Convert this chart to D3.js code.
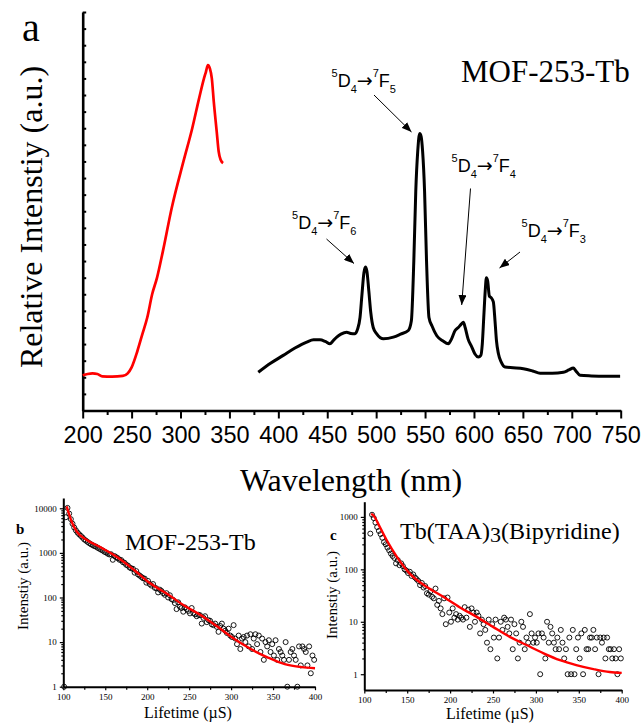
<!DOCTYPE html>
<html>
<head>
<meta charset="utf-8">
<script src="https://cdn.jsdelivr.net/npm/d3@7"></script>
<style>
body { margin: 0; background: #fff; }
svg { display: block; }
</style>
</head>
<body>
<div id="chart"></div>
<script>
// ---- panel a : excitation (red) and emission (black) spectra ----
var exWave = [200, 205, 210, 215, 220, 230, 241, 246, 250, 256, 261, 266, 271, 276, 282, 291, 303, 312, 319, 324, 326, 328, 330, 332, 334, 337, 339, 341, 343.5];
var exInt  = [10.6, 11.0, 11.2, 11.0, 10.3, 10.2, 10.4, 11.2, 13, 18, 23, 28, 35, 40, 48, 61, 75, 85, 94, 100, 102, 104, 103, 100, 93, 84, 78, 75.5, 74.5];

var emWave = [379.5, 392, 405, 417, 429, 436, 442.6, 448, 452.8, 456, 459.7, 464, 469.9, 474, 478.4, 481, 483.5, 485.5, 487.5, 489, 490.5, 492.5, 494.5, 497, 500.6,
  507.4, 517.6, 525, 532.9, 536, 538.5, 540.5, 542.5, 544.5, 546, 547.5, 549.5, 551.5, 554, 557, 562, 568, 573.8, 577, 580.7, 584, 587, 589.2, 591, 594, 597.8,
  601, 604.5, 607, 608.5, 610, 611.5, 612.7, 614, 615.7, 617.5, 619.8, 621.5, 623, 625, 628, 631.8, 640, 650.5, 660, 667.6, 680, 691.4, 697, 701.6, 704, 708.5,
  720, 735, 749.4];
var emInt  = [11.5, 14.2, 16.6, 18.8, 20.6, 21.3, 21.3, 20.8, 20.1, 21.0, 22.1, 23.0, 23.6, 23.2, 23.1, 24.5, 28, 35, 41.5, 43.2, 42, 36, 29.5, 25, 23.1,
  21.6, 22.1, 23, 24.1, 27, 45, 66, 78, 83.4, 82.5, 78, 66, 45, 28, 25.5, 22.5, 21, 20.1, 21.5, 24.1, 25, 26, 26.6, 25, 21.5, 19.1,
  17, 16.1, 16.6, 20, 28, 36, 40, 39, 34.5, 34, 32.7, 27, 21, 17.1, 14.5, 13.1, 12.9, 12.6, 11.9, 11.2, 11.2, 11.5, 12.2, 12.8, 12, 10.6,
  10.4, 10.3, 10.3];

var wavelengthTicks = [200, 250, 300, 350, 400, 450, 500, 550, 600, 650, 700, 750];
var transitionJ = ["6", "5", "4", "3"];

// ---- panel b : MOF-253-Tb decay ----
var bTime = [101, 103, 105, 107, 109, 111, 113, 115, 117, 119, 121, 123, 125, 127, 129, 131, 133, 135, 137, 139, 141, 143, 145, 147, 149,
  151, 153, 155, 157, 159, 161, 163, 165, 167, 169, 171, 173, 175, 177, 179, 181, 183, 185, 187, 189, 191, 193, 195, 197, 199,
  201, 203, 205, 207, 209, 211, 213, 215, 217, 219, 221, 223, 225, 227, 229, 231, 233, 235, 237, 239, 241, 243, 245, 247, 249,
  251, 253, 255, 257, 259, 261, 263, 265, 267, 269, 271, 273, 275, 277, 279, 281, 283, 285, 287, 289, 291, 293, 295, 297, 299,
  301, 303, 305, 307, 309, 311, 313, 315, 317, 319, 321, 323, 325, 327, 329, 331, 333, 335, 337, 339, 341, 343, 345, 347, 349,
  351, 353, 355, 357, 359, 361, 363, 365, 367, 369, 371, 373, 375, 377, 379, 381, 383, 385, 387, 389, 391, 393, 395, 397, 399];
var bCount = [1, 6300, 10200, 7600, 5700, 4500, 3700, 3200, 2850, 2600, 2400, 2200, 2000, 1880, 1760, 1650, 1560, 1490, 1420, 1380, 1300, 1240, 1180, 1130, 1060,
  1020, 960, 920, 930, 700, 850, 800, 760, 700, 690, 620, 600, 540, 520, 470, 450, 440, 360, 390, 330, 310, 290, 270, 265, 215,
  235, 200, 185, 200, 165, 160, 130, 150, 140, 125, 115, 125, 100, 112, 92, 88, 75, 55, 78, 62, 58, 48, 60, 55, 50,
  44, 58, 45, 42, 38, 41, 40, 26, 35, 38, 28, 31, 30, 25, 24, 26, 22, 17, 23, 26, 20, 18, 16, 20, 14,
  13, 24, 12, 9, 14, 7, 12, 13, 10, 14, 8, 15, 7, 12, 15, 9, 14, 6, 12, 4, 10, 8, 11, 6, 9,
  5, 11, 4, 7, 6, 5, 4, 10, 1, 4, 6, 7, 5, 4, 1, 8, 3, 8, 7, 6, 3, 8, 2, 5, 4];
var bFitTime = [104, 110, 116, 128, 144, 164, 184, 204, 224, 244, 264, 284, 304, 324, 344, 364, 384, 400];
var bFit     = [11000, 5000, 3000, 1950, 1350, 810, 420, 205, 120, 66, 40, 22, 11.7, 6.9, 4.5, 3.2, 2.75, 2.6];

// ---- panel c : Tb(TAA)3(Bipyridine) decay ----
var cTime = [107, 109, 111, 113, 115, 117, 119, 121, 123, 125, 127, 129, 131, 133, 135, 137, 139, 141, 143, 145, 147, 149,
  151, 153, 155, 157, 159, 161, 163, 165, 167, 169, 171, 173, 175, 177, 179, 181, 183, 185, 187, 189, 191, 193, 195, 197, 199,
  201, 203, 205, 207, 209, 211, 213, 215, 217, 219, 221, 223, 225, 227, 229, 231, 233, 235, 237, 239, 241, 243, 245, 247, 249,
  251, 253, 255, 257, 259, 261, 263, 265, 267, 269, 271, 273, 275, 277, 279, 281, 283, 285, 287, 289, 291, 293, 295, 297, 299,
  301, 303, 305, 307, 309, 311, 313, 315, 317, 319, 321, 323, 325, 327, 329, 331, 333, 335, 337, 339, 341, 343, 345, 347, 349,
  351, 353, 355, 357, 359, 361, 363, 365, 367, 369, 371, 373, 375, 377, 379, 381, 383, 385, 387, 389, 391, 393, 395, 397, 399];
var cCount = [480, 1100, 950, 780, 640, 540, 470, 400, 330, 300, 260, 230, 200, 180, 165, 130, 150, 120, 130, 115, 100, 95,
  85, 90, 75, 80, 70, 65, 60, 50, 55, 45, 48, 35, 33, 38, 30, 28, 43, 21, 25, 18, 14, 28, 9, 29, 15,
  10, 18, 12, 14, 11, 13, 12, 11, 19, 12, 17, 8, 18, 15, 10, 15, 13, 6, 11, 9, 7, 4, 11, 3, 9,
  5, 11, 2, 5, 10, 7, 12, 11, 8, 6, 11, 3, 9, 6, 2, 4, 10, 8, 3, 5, 4, 14, 6, 4, 5,
  4, 6, 1, 6, 5, 2, 10, 4, 8, 6, 4, 3, 5, 3, 7, 4, 2, 3, 1, 5, 1, 7, 1, 3, 5,
  2, 6, 1, 7, 3, 3, 5, 5, 7, 3, 5, 1, 5, 4, 5, 2, 5, 3, 3, 2, 3, 2, 1, 3, 2];
var cFitTime = [108, 110.5, 118, 126, 138, 153, 173, 192, 211, 231, 250, 270, 289, 309, 328, 347, 367, 386, 400];
var cFit     = [1150, 1075, 646, 363, 173, 83, 46, 30, 19, 12.4, 8, 5.1, 3.6, 2.5, 1.85, 1.49, 1.25, 1.1, 1.06];

var lifetimeTicks = [100, 150, 200, 250, 300, 350, 400];

var serif = "'Liberation Serif', 'Times New Roman', serif";
var sans = "'Liberation Sans', Arial, sans-serif";

var svg = d3.select("#chart").append("svg")
    .attr("width", 643)
    .attr("height", 723);

svg.append("defs").append("marker")
    .attr("id", "head")
    .attr("viewBox", "0 0 10 8")
    .attr("refX", 10).attr("refY", 4)
    .attr("markerWidth", 10).attr("markerHeight", 8)
    .attr("markerUnits", "userSpaceOnUse")
    .attr("orient", "auto")
  .append("path")
    .attr("d", "M0,0L10,4L0,8Z")
    .attr("fill", "black");

// ================= panel a =================
var xa = d3.scaleLinear().domain([200, 750]).range([82.7, 620.7]);
var ya = d3.scaleLinear().domain([0, 120]).range([410.5, 12]);

var ga = svg.append("g");

var xAxisA = ga.append("g")
    .attr("transform", "translate(0," + ya(0) + ")")
    .call(d3.axisBottom(xa).tickValues(wavelengthTicks).tickSize(8).tickSizeOuter(0).tickPadding(8));
xAxisA.selectAll("text").attr("font-family", sans).attr("font-size", 23.5).attr("fill", "black");
ga.append("g")
    .attr("transform", "translate(0," + ya(0) + ")")
    .call(d3.axisBottom(xa).tickValues(d3.range(225, 750, 50)).tickSize(4.5).tickFormat(""))
    .select(".domain").remove();

var yAxisA = ga.append("g")
    .attr("transform", "translate(" + xa(200) + ",0)")
    .call(d3.axisRight(ya).tickValues(d3.range(0, 121, 5)).tickSize(3.5).tickSizeOuter(0).tickFormat(""));

ga.selectAll(".domain").attr("stroke-width", 2.6).attr("stroke", "black");
ga.selectAll(".tick line").attr("stroke-width", 2).attr("stroke", "black");

var lineA = d3.line().curve(d3.curveMonotoneX);

ga.append("path")
    .attr("d", lineA(exWave.map(function(w, i){ return [xa(w), ya(exInt[i])]; })))
    .attr("fill", "none")
    .attr("stroke", "#ff0000")
    .attr("stroke-width", 2.7)
    .attr("stroke-linejoin", "round");

ga.append("path")
    .attr("d", lineA(emWave.map(function(w, i){ return [xa(w), ya(emInt[i])]; })))
    .attr("fill", "none")
    .attr("stroke", "black")
    .attr("stroke-width", 3)
    .attr("stroke-linejoin", "round");

// transition labels: text start, baseline, arrow from -> to
var labelLayout = [
    {x: 292, y: 228.5, a: [326.5, 239, 354, 263.5]},
    {x: 331.5, y: 86.5, a: [374, 95, 411.5, 132]},
    {x: 451.5, y: 171.5, a: [470.5, 188.5, 461.7, 305]},
    {x: 521.5, y: 236.5, a: [520, 252, 499.5, 268]}
];

transitionJ.forEach(function(j, i){
    var p = labelLayout[i];
    var t = ga.append("text")
        .attr("x", p.x).attr("y", p.y)
        .attr("font-family", sans).attr("font-size", 18);
    t.append("tspan").attr("font-size", 11).attr("dy", -10).text("5");
    t.append("tspan").attr("dy", 10).text("D");
    t.append("tspan").attr("font-size", 11).attr("dy", 6.5).text("4");
    t.append("tspan").attr("dy", -6.5).attr("font-family", "'DejaVu Sans'").attr("font-size", 19).text("\u2192");
    t.append("tspan").attr("font-size", 11).attr("dy", -10).text("7");
    t.append("tspan").attr("dy", 10).text("F");
    t.append("tspan").attr("font-size", 11).attr("dy", 6.5).text(j);
    ga.append("line")
        .attr("x1", p.a[0]).attr("y1", p.a[1])
        .attr("x2", p.a[2]).attr("y2", p.a[3])
        .attr("stroke", "black").attr("stroke-width", 1)
        .attr("marker-end", "url(#head)");
});

ga.append("text")
    .attr("x", 461).attr("y", 82)
    .attr("font-family", serif).attr("font-size", 31)
    .text("MOF-253-Tb");

ga.append("text")
    .attr("x", 22).attr("y", 41)
    .attr("font-family", serif).attr("font-size", 40)
    .text("a");

ga.append("text")
    .attr("transform", "translate(42,217) rotate(-90)")
    .attr("text-anchor", "middle")
    .attr("font-family", serif).attr("font-size", 32)
    .text("Relative Intenstiy (a.u.)");

ga.append("text")
    .attr("x", 351).attr("y", 491)
    .attr("text-anchor", "middle")
    .attr("font-family", serif).attr("font-size", 32)
    .text("Wavelength (nm)");

// ================= decay panels =================
function decayPanel(opts){
    var x = d3.scaleLinear().domain([100, 400]).range(opts.xr);
    var y = d3.scaleLog().domain(opts.yd).range(opts.yr);
    var g = svg.append("g");

    var minor = [];
    opts.decades.forEach(function(d){
        for (var k = 2; k < 10; k++) {
            var v = d * k;
            if (v >= opts.yd[0] && v <= opts.yd[1]) minor.push(v);
        }
    });

    g.append("g")
        .attr("transform", "translate(0," + opts.yr[0] + ")")
        .call(d3.axisBottom(x).tickValues(lifetimeTicks).tickSize(3.5).tickSizeOuter(0).tickPadding(3.5));
    g.append("g")
        .attr("transform", "translate(0," + opts.yr[0] + ")")
        .call(d3.axisBottom(x).tickValues(d3.range(125, 400, 50)).tickSize(3).tickFormat(""))
        .select(".domain").remove();

    g.append("g")
        .attr("transform", "translate(" + opts.xr[0] + ",0)")
        .call(d3.axisLeft(y).tickValues(opts.decades).tickFormat(d3.format("d")).tickSize(3.5).tickSizeOuter(0).tickPadding(3));
    g.append("g")
        .attr("transform", "translate(" + opts.xr[0] + ",0)")
        .call(d3.axisLeft(y).tickValues(minor).tickSize(2).tickFormat(""))
        .select(".domain").remove();

    g.selectAll(".domain").attr("stroke", "black").attr("stroke-width", 2);
    g.selectAll(".tick line").attr("stroke", "black").attr("stroke-width", 1.2);
    g.selectAll(".tick text").attr("font-family", serif).attr("font-size", 9).attr("fill", "black");

    g.append("g").selectAll("circle")
        .data(opts.time)
        .join("circle")
        .attr("cx", function(d){ return x(d); })
        .attr("cy", function(d, i){ return y(opts.count[i]); })
        .attr("r", 2.5)
        .attr("fill", "none")
        .attr("stroke", "black")
        .attr("stroke-width", 0.9);

    g.append("path")
        .attr("d", d3.line().curve(d3.curveMonotoneX)(opts.fitTime.map(function(t, i){ return [x(t), y(opts.fit[i])]; })))
        .attr("fill", "none")
        .attr("stroke", "#ff0000")
        .attr("stroke-width", 2.4);

    g.append("text")
        .attr("transform", "translate(" + opts.ylab[0] + "," + opts.ylab[1] + ") rotate(-90)")
        .attr("text-anchor", "middle")
        .attr("font-family", serif).attr("font-size", 15)
        .text("Intenstiy (a.u.)");

    g.append("text")
        .attr("x", opts.xlab[0]).attr("y", opts.xlab[1])
        .attr("text-anchor", "middle")
        .attr("font-family", serif).attr("font-size", 16)
        .text("Lifetime (\u00b5S)");

    g.append("text")
        .attr("x", opts.letter[0]).attr("y", opts.letter[1])
        .attr("font-family", serif).attr("font-size", 15).attr("font-weight", "bold")
        .text(opts.letter[2]);

    return g;
}

var gb = decayPanel({
    xr: [63.3, 315], yd: [1, 17000], yr: [686.7, 498],
    decades: [1, 10, 100, 1000, 10000],
    time: bTime, count: bCount, fitTime: bFitTime, fit: bFit,
    ylab: [28, 586], xlab: [188, 718], letter: [16, 534, "b"]
});
gb.append("text")
    .attr("x", 125).attr("y", 550)
    .attr("font-family", serif).attr("font-size", 24)
    .text("MOF-253-Tb");

var gc = decayPanel({
    xr: [364.3, 621.7], yd: [0.5, 1950], yr: [690, 501.7],
    decades: [1, 10, 100, 1000],
    time: cTime, count: cCount, fitTime: cFitTime, fit: cFit,
    ylab: [337, 595], xlab: [490, 719], letter: [330, 540, "c"]
});
var tc = gc.append("text")
    .attr("x", 400).attr("y", 539)
    .attr("font-family", serif).attr("font-size", 24);
tc.append("tspan").text("Tb(TAA)");
tc.append("tspan").attr("dy", 3).attr("font-size", 22).text("3");
tc.append("tspan").attr("dy", -3).text("(Bipyridine)");
</script>
</body>
</html>
